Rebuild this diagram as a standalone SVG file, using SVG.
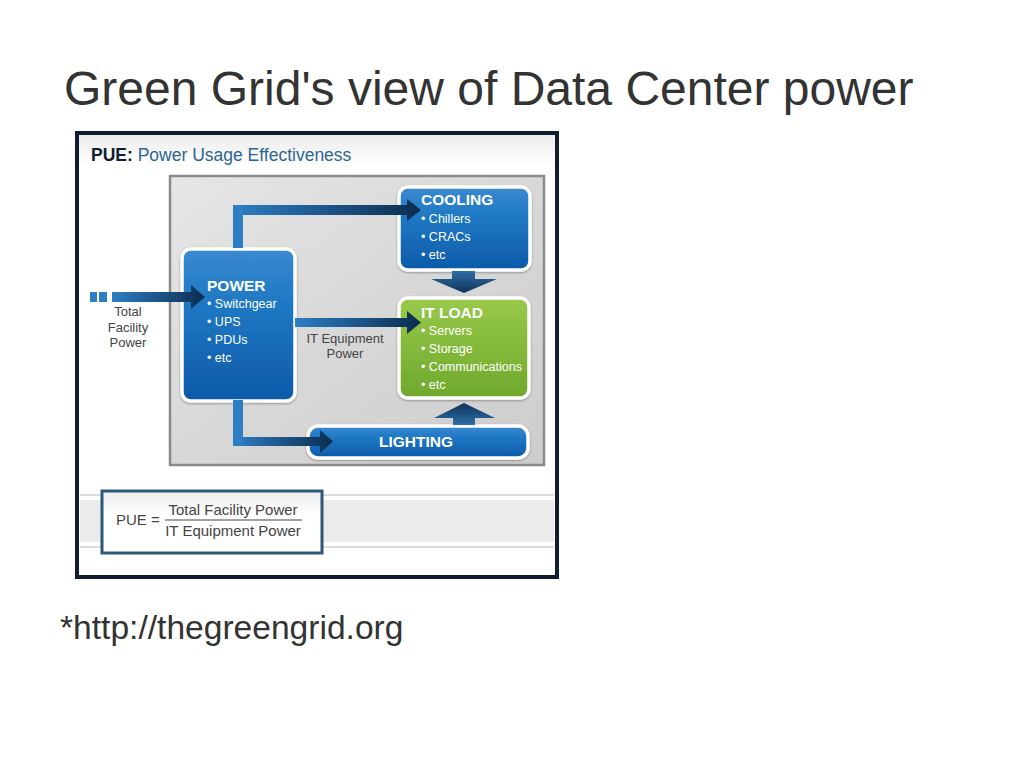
<svg xmlns="http://www.w3.org/2000/svg" width="1024" height="768" viewBox="0 0 1024 768">
<defs>
<style>
.title{font-family:"Liberation Sans",Arial,sans-serif;fill:#333;}
.hdr{font-family:"Liberation Sans",Arial,sans-serif;font-size:17.5px;}
.boxh{font-family:"Liberation Sans",Arial,sans-serif;font-size:15.5px;font-weight:bold;fill:#fff;}
.item{font-family:"Liberation Sans",Arial,sans-serif;font-size:12.5px;fill:#fff;}
.lbl{font-family:"Liberation Sans",Arial,sans-serif;font-size:13px;fill:#444;}
.frm{font-family:"Liberation Sans",Arial,sans-serif;font-size:15px;fill:#444;}
.box{stroke:#fff;stroke-width:3.5;}
</style>
<linearGradient id="gPanel" x1="0" y1="0" x2="1" y2="1">
<stop offset="0" stop-color="#e6e6e6"/>
<stop offset="0.5" stop-color="#d8d8d8"/>
<stop offset="1" stop-color="#cdcdcd"/>
</linearGradient>
<linearGradient id="gBlue" x1="0" y1="0" x2="0" y2="1">
<stop offset="0" stop-color="#3a8ad0"/>
<stop offset="0.35" stop-color="#1f78c4"/>
<stop offset="1" stop-color="#0d5aa8"/>
</linearGradient>
<linearGradient id="gGreen" x1="0" y1="0" x2="0" y2="1">
<stop offset="0" stop-color="#98c94a"/>
<stop offset="1" stop-color="#6fa82c"/>
</linearGradient>
<linearGradient id="gArrowH" x1="0" y1="0" x2="1" y2="0">
<stop offset="0" stop-color="#2d7ec4"/>
<stop offset="1" stop-color="#0c2c4e"/>
</linearGradient>
<linearGradient id="gArrowV" x1="0" y1="0" x2="0" y2="1">
<stop offset="0" stop-color="#2d6fa8"/>
<stop offset="1" stop-color="#0f3358"/>
</linearGradient>
<linearGradient id="gArrowUp" x1="0" y1="1" x2="0" y2="0">
<stop offset="0" stop-color="#2d6fa8"/>
<stop offset="1" stop-color="#0f3358"/>
</linearGradient>
<linearGradient id="gFormula" x1="0" y1="0" x2="0" y2="1">
<stop offset="0" stop-color="#ececec"/>
<stop offset="0.4" stop-color="#ffffff"/>
<stop offset="1" stop-color="#ffffff"/>
</linearGradient>
<linearGradient id="gHdr" x1="0" y1="0" x2="0" y2="1">
<stop offset="0" stop-color="#ececec"/>
<stop offset="1" stop-color="#ffffff"/>
</linearGradient>
<filter id="sh" x="-10%" y="-10%" width="120%" height="120%">
<feDropShadow dx="0" dy="1" stdDeviation="1.2" flood-color="#000" flood-opacity="0.35"/>
</filter>
</defs>
<rect width="1024" height="768" fill="#fff"/>
<text class="title" x="64" y="105" font-size="48">Green Grid's view of Data Center power</text>

<g id="frame">
<rect x="77" y="133" width="480" height="444" fill="#fff" stroke="#0e1d33" stroke-width="4"/>
<rect x="79" y="135" width="476" height="30" fill="url(#gHdr)"/>
<text class="hdr" x="91" y="161"><tspan font-weight="bold" fill="#0e1d33">PUE:</tspan><tspan fill="#2e6590"> Power Usage Effectiveness</tspan></text>
<rect x="170" y="176" width="374" height="289" fill="url(#gPanel)" stroke="#8a8a8a" stroke-width="2.5"/>
</g>

<g id="power">
<rect class="box" x="182" y="249" width="113" height="152" rx="9" fill="url(#gBlue)" filter="url(#sh)"/>
<text class="boxh" x="207" y="291">POWER</text>
<text class="item"><tspan x="207" y="308">• Switchgear</tspan><tspan x="207" y="326">• UPS</tspan><tspan x="207" y="344">• PDUs</tspan><tspan x="207" y="362">• etc</tspan></text>
</g>

<g id="cooling">
<rect class="box" x="399" y="187" width="131" height="83" rx="9" fill="url(#gBlue)" filter="url(#sh)"/>
<text class="boxh" x="421" y="205">COOLING</text>
<text class="item"><tspan x="421" y="223">• Chillers</tspan><tspan x="421" y="241">• CRACs</tspan><tspan x="421" y="259">• etc</tspan></text>
</g>

<g id="itload">
<rect class="box" x="399" y="298" width="130" height="100" rx="9" fill="url(#gGreen)" filter="url(#sh)"/>
<text class="boxh" x="421" y="318">IT LOAD</text>
<text class="item"><tspan x="421" y="335">• Servers</tspan><tspan x="421" y="353">• Storage</tspan><tspan x="421" y="371">• Communications</tspan><tspan x="421" y="389">• etc</tspan></text>
</g>

<g id="lighting">
<rect class="box" x="308" y="426" width="220" height="32" rx="10" fill="url(#gBlue)" filter="url(#sh)"/>
<text class="boxh" x="416" y="447" font-size="16.5" text-anchor="middle">LIGHTING</text>
</g>

<g id="connectors">
<rect x="90" y="292" width="7" height="10" fill="#2d7ec4"/>
<rect x="99" y="292" width="8" height="10" fill="#2d7ec4"/>
<path d="M112,292 H191 V285 L205,297 L191,309 V302 H112 Z" fill="url(#gArrowH)"/>
<path d="M233,248 V205 H407 V199 L421,210 L407,221 V215 H243 V248 Z" fill="url(#gArrowH)"/>
<rect x="233" y="205" width="10" height="43" fill="#2d7ec4"/>
<path d="M295,318 H407 V311 L421,322.5 L407,334 V327 H295 Z" fill="url(#gArrowH)"/>
<path d="M233,400 V446 H320 V453 L333,441.5 L320,430 V437 H243 V400 Z" fill="url(#gArrowH)"/>
<rect x="233" y="400" width="10" height="46" fill="#2d7ec4"/>
<path d="M452,271 H475 V279 H497 L464,293 L431,279 H452 Z" fill="url(#gArrowV)"/>
<path d="M453,425 V418 H434 L464,403 L495,418 H475 V425 Z" fill="url(#gArrowUp)"/>
<text class="lbl" text-anchor="middle"><tspan x="128" y="316">Total</tspan><tspan x="128" y="332">Facility</tspan><tspan x="128" y="347">Power</tspan></text>
<text class="lbl" text-anchor="middle"><tspan x="345" y="343">IT Equipment</tspan><tspan x="345" y="358">Power</tspan></text>
</g>

<g id="formula">
<rect x="80" y="494" width="474" height="2" fill="#dcdcdc"/>
<rect x="80" y="500" width="474" height="42" fill="#ebebec"/>
<rect x="80" y="546" width="474" height="2" fill="#dcdcdc"/>
<rect x="102" y="491" width="220" height="62" fill="url(#gFormula)" stroke="#2a5a78" stroke-width="3"/>
<text class="frm" x="116" y="525">PUE =</text>
<line x1="165" y1="520" x2="302" y2="520" stroke="#444" stroke-width="1"/>
<text class="frm" x="233" y="515" text-anchor="middle">Total Facility Power</text>
<text class="frm" x="233" y="536" text-anchor="middle">IT Equipment Power</text>
</g>

<text class="title" x="60" y="639" font-size="33.6">*http://thegreengrid.org</text>
</svg>
